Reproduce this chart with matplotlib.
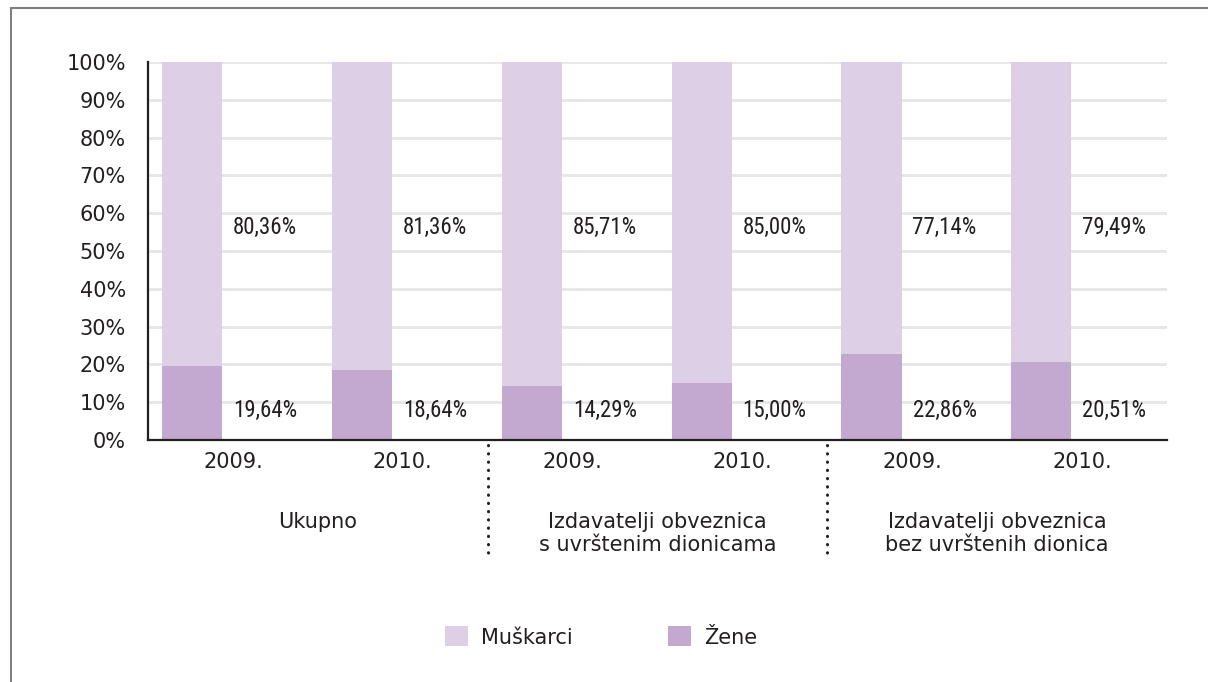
import matplotlib
matplotlib.use("Agg")
import matplotlib.pyplot as plt
from matplotlib.patches import Rectangle, Patch
from matplotlib.lines import Line2D
from matplotlib import font_manager
import numpy as np

years = ["2009.", "2010.", "2009.", "2010.", "2009.", "2010."]
groups = ["Ukupno", "Izdavatelji obveznica\ns uvrštenim dionicama", "Izdavatelji obveznica\nbez uvrštenih dionica"]
muskarci = [80.36, 81.36, 85.71, 85.00, 77.14, 79.49]
zene = [19.64, 18.64, 14.29, 15.00, 22.86, 20.51]
yticks = [0, 10, 20, 30, 40, 50, 60, 70, 80, 90, 100]

c_light = "#DCCFE6"
c_dark = "#C3A8CF"
txt = "#231F20"

# choose a condensed font for value labels if available
cond_fp = None
names = {f.name: f for f in font_manager.fontManager.ttflist}
for cand in ["Roboto Condensed", "Liberation Sans Narrow", "Open Sans Condensed", "Noto Sans Condensed"]:
    if cand in names:
        cond_fp = dict(family=cand)
        break
if cond_fp is None:
    has_dv_cond = any(("Condensed" in f.fname and "DejaVuSans" in f.fname)
                      for f in font_manager.fontManager.ttflist)
    cond_fp = dict(family="DejaVu Sans", stretch="condensed") if has_dv_cond else dict(family="DejaVu Sans")

fig = plt.figure(figsize=(12.08, 6.82), dpi=100)
W, H = 1208, 682
ax = fig.add_axes([148 / W, 1 - 440 / H, (1167 - 148) / W, (440 - 62) / H])

x = np.arange(len(years))
bx = x - 0.24
bw = 0.355
ax.bar(bx, zene, width=bw, color=c_dark, zorder=3)
ax.bar(bx, muskarci, width=bw, bottom=zene, color=c_light, zorder=3)

for i in range(len(years)):
    ax.text(x[i] + 0.19, 56.1, f"{muskarci[i]:.2f}".replace(".", ",") + "%", ha="center", va="center",
            fontsize=16.5, color=txt, zorder=4, **cond_fp)
    ax.text(x[i] + 0.19, 7.7, f"{zene[i]:.2f}".replace(".", ",") + "%", ha="center", va="center",
            fontsize=16.5, color=txt, zorder=4, **cond_fp)

ax.set_xlim(-0.5, 5.5)
ax.set_ylim(0, 100)
ax.set_yticks(yticks)
ax.set_yticklabels([f"{v}%" for v in yticks], fontsize=15, color=txt)
ax.set_xticks(x)
ax.set_xticklabels(years, fontsize=15, color=txt)
ax.tick_params(axis="both", length=0)
ax.tick_params(axis="y", pad=16)
ax.tick_params(axis="x", pad=9)
ax.yaxis.grid(True, color="#E6E6E6", linewidth=2, zorder=0)
ax.set_axisbelow(True)
for s in ["top", "right"]:
    ax.spines[s].set_visible(False)
for s in ["left", "bottom"]:
    ax.spines[s].set_color(txt)
    ax.spines[s].set_linewidth(1.6)
    ax.spines[s].set_zorder(5)

# group labels
trans = ax.get_xaxis_transform()
for g, name in enumerate(groups):
    ax.text(2 * g + 0.5, -0.19, name, transform=trans, ha="center", va="top",
            fontsize=15, color=txt, linespacing=1.2)
# dotted separators
for sep in [1.5, 3.5]:
    ax.add_line(Line2D([sep, sep], [-0.012, -0.30], transform=trans, clip_on=False,
                       color=txt, linestyle=(0, (0.1, 2.6)), linewidth=2.2,
                       dash_capstyle="round"))

# legend
handles = [Patch(facecolor=c_light, edgecolor="none", label="Muškarci"),
           Patch(facecolor=c_dark, edgecolor="none", label="Žene")]
fig.legend(handles=handles, loc="center", bbox_to_anchor=(601 / W, 1 - 637 / H), ncol=2,
           frameon=False, fontsize=15, handlelength=1.1, handleheight=1.1,
           columnspacing=4.6, handletextpad=0.6, labelcolor=txt)

# outer frame
fig.patches.append(Rectangle((11 / W, -0.1), 1.2, 1.1 - 8 / H, transform=fig.transFigure,
                             fill=False, edgecolor="#7F7F7F", linewidth=1.5))

fig.savefig("out.png", dpi=100)
